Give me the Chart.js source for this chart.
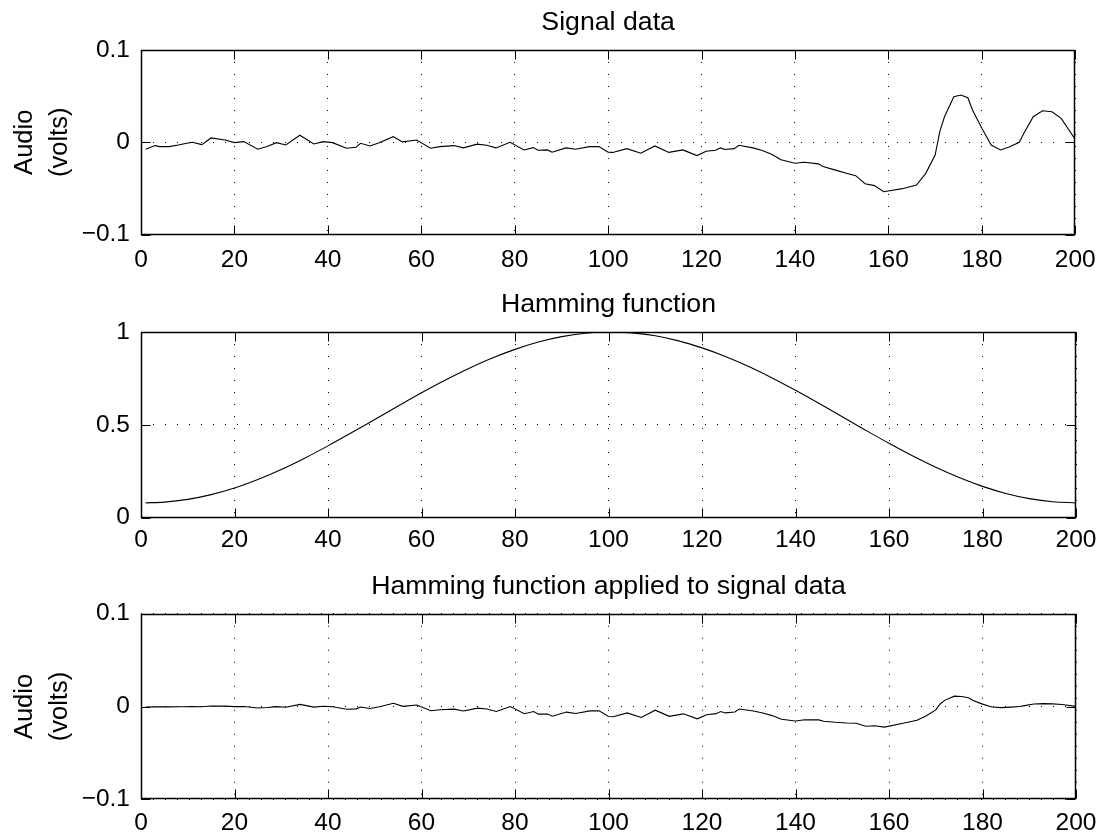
<!DOCTYPE html>
<html>
<head>
<meta charset="utf-8">
<script src="https://cdn.jsdelivr.net/npm/chart.js@4.4.1/dist/chart.umd.min.js"></script>
<style>
  html, body { margin: 0; padding: 0; background: #fff; }
  #wrap { position: relative; width: 1107px; height: 837px; }
  canvas { position: absolute; left: 0; }
</style>
</head>
<body>
<div id="wrap">
  <canvas id="signal" width="1107" height="280" style="top:0"></canvas>
  <canvas id="hamming" width="1107" height="280" style="top:280px"></canvas>
  <canvas id="windowed" width="1107" height="277" style="top:560px"></canvas>
</div>
<script>
// sample index and audio readings (volts) taken off the plot
const signalX = [1,3,4,6,8,9,11,13,15,18,20,22,25,27,29,31,34,37,39,41,44,46,47,49,51,54,56,59,62,64,
  67,69,72,74,76,79,82,84,85,87,88,91,93,96,98,100,101,104,107,110,113,116,119,121,123,124,125,127,128,131,
  133,135,137,140,142,145,146,148.5,151,153,155,157,159,163,166,168,170,171,172,174,175.5,177,178,180,182,184,186,188,189,191,
  193,195,197,200];
const signalY = [-0.0076,-0.0036,-0.0047,-0.0047,-0.0029,-0.0018,0,-0.0025,0.0047,0.0025,
  -0.0004,0.0007,-0.0076,-0.0047,-0.0004,-0.0029,0.0076,-0.0018,0.0007,-0.0004,
  -0.0065,-0.0054,-0.0011,-0.004,-0.0005,0.006,0.0004,0.0025,-0.0065,-0.0047,
  -0.0036,-0.0061,-0.002,-0.0032,-0.0061,0,-0.0083,-0.0058,-0.0087,-0.0083,
  -0.0108,-0.0061,-0.0076,-0.0047,-0.0047,-0.0108,-0.011,-0.0069,-0.0119,-0.004,
  -0.011,-0.0083,-0.0144,-0.0098,-0.0087,-0.0061,-0.0079,-0.0069,-0.0032,-0.0061,
  -0.009,-0.013,-0.019,-0.0227,-0.0216,-0.0234,-0.0263,-0.0299,-0.0335,-0.0362,
  -0.045,-0.047,-0.0536,-0.0503,-0.0463,-0.0337,-0.0138,0.0115,0.0277,0.0494,
  0.0512,0.0483,0.035,0.0151,-0.003,-0.0084,-0.0048,0,0.0097,0.0277,
  0.0342,0.0331,0.0259,0.003];

// hamming window, read every 5 samples
const hammingX = [1,5,10,15,20,25,30,35,40,45,50,55,60,65,70,75,80,85,90,95,100,
  105,110,115,120,125,130,135,140,145,150,155,160,165,170,175,180,185,190,195,200];
const hammingY = [0.080,0.0837,0.0985,0.1242,0.1603,0.2059,0.2597,0.3206,0.3869,0.4570,0.5291,
  0.6015,0.6725,0.7401,0.8026,0.8585,0.9067,0.9461,0.9752,0.9933,0.9999,
  0.9953,0.9799,0.9525,0.9146,0.8688,0.8144,0.7529,0.6863,0.6159,0.5436,
  0.4713,0.4005,0.3331,0.2712,0.2161,0.1687,0.1306,0.1027,0.0857,0.0800];

// windowed signal, same sample positions as signalX
const windowedY = [-0.0006,-0.0003,-0.0004,-0.0004,-0.0003,-0.0002,0,-0.0003,0.0006,0.0004,
  -0.0001,0.0001,-0.0016,-0.0011,-0.0001,-0.0008,0.0023,-0.0006,0.0003,-0.0002,
  -0.0029,-0.0025,-0.0005,-0.0021,-0.0003,0.0035,0.0002,0.0016,-0.0046,-0.0034,
  -0.0028,-0.0048,-0.0017,-0.0027,-0.0053,0,-0.0077,-0.0054,-0.0082,-0.008,
  -0.0104,-0.006,-0.0075,-0.0047,-0.0047,-0.0108,-0.011,-0.0069,-0.0118,-0.0039,
  -0.0106,-0.0079,-0.0133,-0.0089,-0.0077,-0.0054,-0.0069,-0.0059,-0.0027,-0.0049,
  -0.007,-0.0098,-0.0138,-0.0156,-0.0142,-0.0144,-0.0158,-0.0169,-0.0177,-0.0181,
  -0.0212,-0.0208,-0.0222,-0.0181,-0.0148,-0.01,-0.0037,0.003,0.0069,0.0112,
  0.0108,0.0095,0.0065,0.0026,-0.0005,-0.0012,-0.0006,0,0.001,0.0027,
  0.0031,0.0028,0.0021,0.0002];

const xTicks = [0,20,40,60,80,100,120,140,160,180,200];
const audioTicks = [-0.1, 0, 0.1];
const hammingTicks = [0, 0.5, 1];

Chart.defaults.font.family = '"Liberation Sans", Arial, Helvetica, sans-serif';
Chart.defaults.color = '#000';
Chart.defaults.animation = false;

// matlab style: solid box, tick marks pointing inwards on all four sides
const matlabFrame = {
  id: 'matlabFrame',
  afterDraw(chart) {
    const { ctx, chartArea: a, scales: { x, y } } = chart;
    const L = Math.round(a.left) + 0.5, R = Math.round(a.right) - 0.5;
    const T = Math.round(a.top) + 0.5, B = Math.round(a.bottom) - 0.5;
    ctx.save();
    ctx.strokeStyle = '#000';
    ctx.lineWidth = 1;
    ctx.beginPath();
    x.ticks.forEach(t => {
      const px = Math.round(x.getPixelForValue(t.value)) + 0.5;
      ctx.moveTo(px, B); ctx.lineTo(px, B - 9);
      ctx.moveTo(px, T); ctx.lineTo(px, T + 9);
    });
    y.ticks.forEach(t => {
      const py = Math.round(y.getPixelForValue(t.value)) + 0.5;
      ctx.moveTo(L, py); ctx.lineTo(L + 9, py);
      ctx.moveTo(R, py); ctx.lineTo(R - 9, py);
    });
    ctx.stroke();
    ctx.lineWidth = 1.5;
    ctx.strokeRect(L, T, R - L, B - T);
    ctx.restore();
  }
};

const fmt = v => (v < 0 ? '\u2212' + String(-v) : String(v));

function makeChart(id, o) {
  return new Chart(document.getElementById(id), {
    type: 'line',
    data: {
      datasets: [{
        data: o.xs.map((x, i) => ({ x, y: o.ys[i] })),
        borderColor: '#000',
        borderWidth: 1.1,
        pointRadius: 0,
        tension: o.smooth ? 0.4 : 0,
        cubicInterpolationMode: o.smooth ? 'monotone' : 'default'
      }]
    },
    options: {
      responsive: false,
      devicePixelRatio: 1,
      events: [],
      layout: { padding: { left: 0, right: 31, top: 0, bottom: 0 } },
      plugins: {
        legend: { display: false },
        tooltip: { enabled: false },
        title: {
          display: true,
          text: o.title,
          fullSize: false,
          color: '#000',
          font: { size: 26.7, weight: 'normal', lineHeight: 1.2 },
          padding: { top: o.titleTop, bottom: 11.2 }
        }
      },
      scales: {
        x: {
          type: 'linear',
          min: 0,
          max: 200,
          afterBuildTicks: s => { s.ticks = xTicks.map(v => ({ value: v })); },
          afterFit: s => { s.height = o.xHeight; },
          grid: { color: '#000', lineWidth: 1, drawTicks: false },
          border: { display: false, dash: [1, 11] },
          ticks: { font: { size: 24.5 }, padding: o.xPad, maxRotation: 0, autoSkip: false, callback: fmt }
        },
        y: {
          type: 'linear',
          min: o.yTicks[0],
          max: o.yTicks[o.yTicks.length - 1],
          afterBuildTicks: s => { s.ticks = o.yTicks.map(v => ({ value: v })); },
          afterFit: s => { s.width = 141; },
          grid: { color: '#000', lineWidth: 1, drawTicks: false },
          border: { display: false, dash: [1, 11] },
          ticks: { font: { size: 24.5 }, padding: 11, callback: fmt },
          title: {
            display: !!o.yTitle,
            text: o.yTitle || '',
            color: '#000',
            font: { size: 25.5, lineHeight: 1.35 },
            padding: { top: 8, bottom: 0 }
          }
        }
      }
    },
    plugins: [matlabFrame]
  });
}

makeChart('signal', {
  xs: signalX, ys: signalY, yTicks: audioTicks, title: 'Signal data',
  yTitle: ['Audio', '(volts)'], titleTop: 6.8, xHeight: 45.5, xPad: 11.3
});
makeChart('hamming', {
  xs: hammingX, ys: hammingY, yTicks: hammingTicks, title: 'Hamming function',
  titleTop: 8.8, xHeight: 42.3, xPad: 7.6, smooth: true
});
makeChart('windowed', {
  xs: signalX, ys: windowedY, yTicks: audioTicks, title: 'Hamming function applied to signal data',
  yTitle: ['Audio', '(volts)'], titleTop: 10.5, xHeight: 37.7, xPad: 9.3
});
</script>
</body>
</html>
